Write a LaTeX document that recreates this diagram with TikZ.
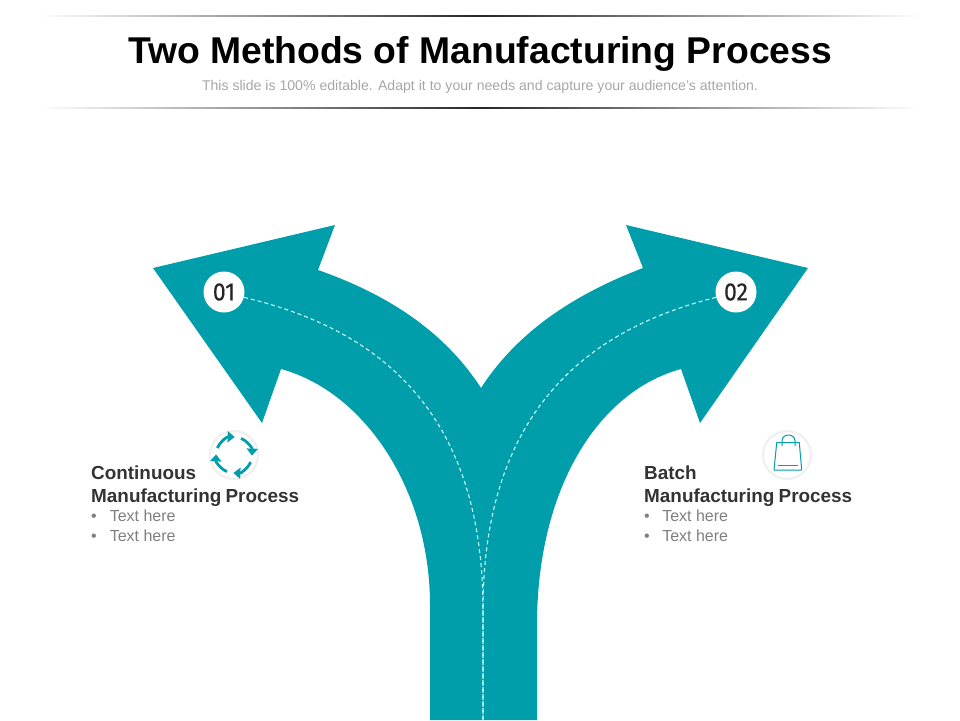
\documentclass[tikz,border=0pt]{standalone}
\usepackage{fontspec}
\setmainfont{Liberation Sans}
\newfontfamily\numfont[FakeStretch=0.92,RawFeature={embolden=0.2}]{Fira Sans}
\usetikzlibrary{arrows.meta}
\definecolor{teal1}{HTML}{009EAA}
\definecolor{dashc}{HTML}{C4FAFA}
\definecolor{headc}{HTML}{333333}
\definecolor{bodyc}{HTML}{7F7F7F}
\definecolor{subc}{HTML}{A6A6A6}
\tikzset{
 x=1pt,y=-1pt,
 numdot/.style={circle,fill=white,minimum size=41pt,inner sep=0pt,font=\numfont\fontsize{25}{25}\selectfont,text=black!85},
 iconring/.style={circle,fill=white,draw=black!6,line width=2.2pt,minimum size=48pt,inner sep=0pt},
 dashline/.style={draw=dashc,line width=1.1pt,dash pattern=on 4pt off 3pt},
 heading/.style={anchor=base west,inner sep=0pt,font=\bfseries\fontsize{18.9}{19}\selectfont,text=headc},
 bodytext/.style={anchor=base west,inner sep=0pt,font=\fontsize{16}{16}\selectfont,text=bodyc},
 looparrow/.style={draw=teal1,line width=2.8pt,-{Triangle[length=7pt,width=11pt]}},
 bagline/.style={draw=teal1,line width=1pt},
}
\begin{document}
\begin{tikzpicture}
\useasboundingbox (0,0) rectangle (960,720);
% header rules
\shade[left color=white,right color=black!85] (40,15) rectangle (480,16);
\shade[left color=black!85,right color=white] (480,15) rectangle (920,16);
\shade[left color=white,right color=black!85] (40,107) rectangle (480,108);
\shade[left color=black!85,right color=white] (480,107) rectangle (920,108);
\node[inner sep=0pt,font=\bfseries\fontsize{37.3}{37}\selectfont,text=black] (title) at (480,54) {Two Methods of Manufacturing Process};
\node[inner sep=0pt,font=\fontsize{14.1}{15}\selectfont,text=subc] (subtitle) at (480,87) {This slide is 100\% editable. Adapt it to your needs and capture your audience's attention.};
% forked arrow
\fill[teal1] (430,720) -- (430,605)
 .. controls (430,490) and (365,392) .. (281,369)
 -- (262,423) -- (153,268) -- (335,225) -- (318,270)
 .. controls (392,296) and (446,334) .. (481,388)
 .. controls (516,334) and (570,296) .. (643,268)
 -- (626,225) -- (808,268) -- (700,423) -- (681,369)
 .. controls (597,392) and (537,490) .. (537,625)
 -- (537,720) -- cycle;
% number badges
\node[numdot] (n1) at (224,292) {01};
\node[numdot] (n2) at (736,292) {02};
\coordinate (base) at (483,720);
\draw[dashline] (n1.-15) .. controls (360,325) and (483,395) .. (483,610) -- (base);
\draw[dashline] (n2.195) .. controls (606,325) and (483,395) .. (483,610) -- (base);
% icons
\node[iconring] (ic1) at (234,455) {};
\node[iconring] (ic2) at (787,455) {};
\draw[looparrow] (ic1.center) ++(-157:18) arc (-157:-88:18);
\draw[looparrow] (ic1.center) ++(-67:18) arc (-67:2:18);
\draw[looparrow] (ic1.center) ++(23:18) arc (23:92:18);
\draw[looparrow] (ic1.center) ++(113:18) arc (113:182:18);
\draw[bagline,line join=round] (776.7,442.7) -- (799.3,442.7) -- (801.7,470) -- (774,470) -- cycle;
\draw[bagline] (778,465) -- (798,465);
\draw[bagline] (782,446) -- (782,441) .. controls (782,433) and (795,433) .. (795,441) -- (795,446);
% texts
\node[heading] (h1a) at (91,479) {Continuous};
\node[heading] (h1b) at (91,502) {Manufacturing\hspace{-1pt} Process};
\node[bodytext] (b1a) at (91,521.5) {•\hspace{13pt}Text here};
\node[bodytext] (b1b) at (91,541.5) {•\hspace{13pt}Text here};
\node[heading] (h2a) at (644,479) {Batch};
\node[heading] (h2b) at (644,502) {Manufacturing\hspace{-1pt} Process};
\node[bodytext] (b2a) at (644,521.5) {•\hspace{12.5pt}Text here};
\node[bodytext] (b2b) at (644,541.5) {•\hspace{12.5pt}Text here};
\end{tikzpicture}
\end{document}
